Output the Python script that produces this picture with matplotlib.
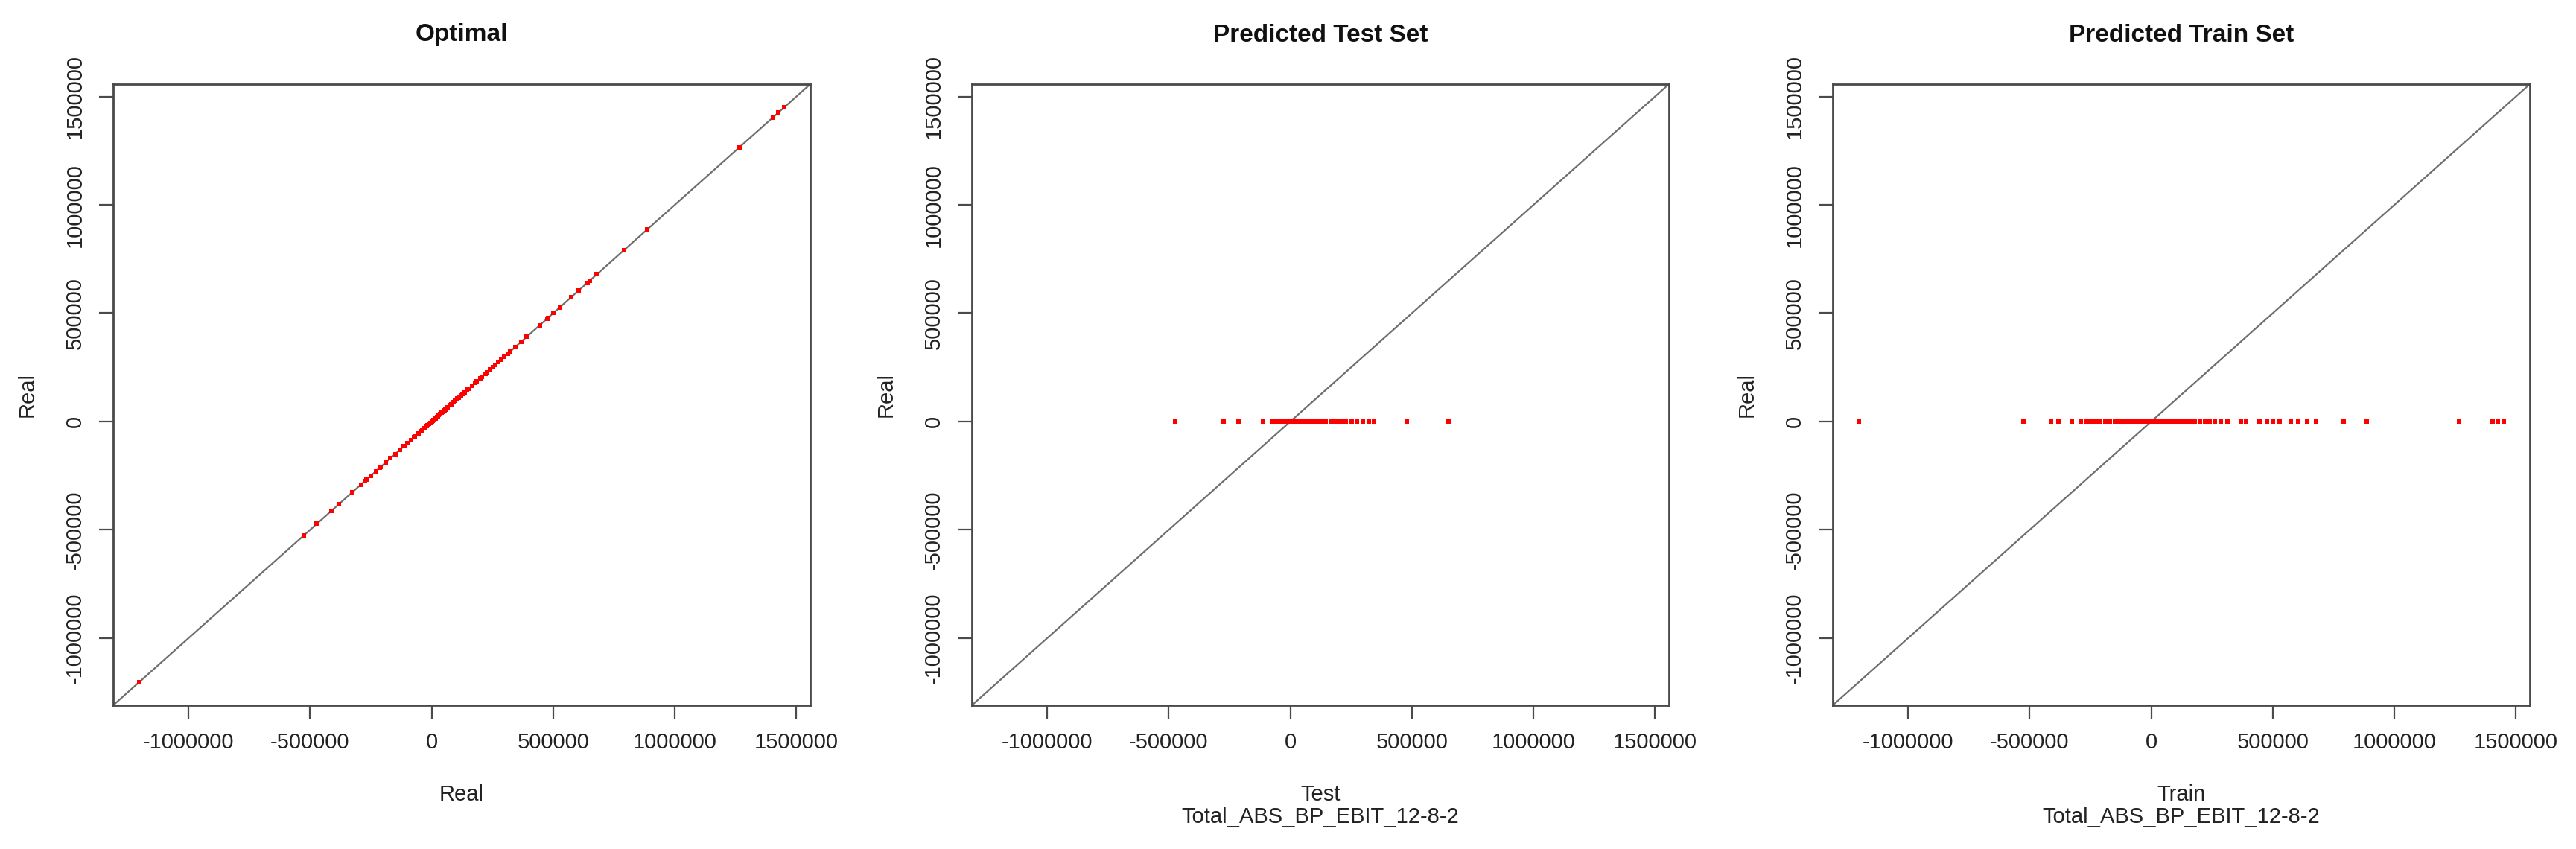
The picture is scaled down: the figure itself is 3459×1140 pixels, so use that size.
import matplotlib
matplotlib.use("Agg")
import matplotlib.pyplot as plt
from matplotlib.ticker import FixedLocator, FixedFormatter

# ---------------- data ----------------
train_real = [-1204000, -527000, -414000, -383000, -328000, -291000, -270000,
              -250000, -230000, -210000, -190000, -170000, -150000, -130000,
              -115000, -100000, -85000, -70000, -55000, -40000, -30000, -20000,
              -10000, 0, 8000, 15000, 25000, 35000, 45000, 55000, 65000, 75000,
              90000, 105000, 120000, 135000, 150000, 165000, 180000, 200000,
              220000, 240000, 260000, 285000, 313000, 368000, 390000, 444000,
              475000, 500000, 527000, 573000, 605000, 640000, 679000, 792000,
              887000, 1265000, 1403000, 1427000, 1451000]
train_pred = [0, 0, 0, 0, 0, 0, 0, 0, 0, 0, 0, 0, 0, 0, 0, 0, 0, 0, 0, 0,
              0, 0, 0, 0, 0, 0, 0, 0, 0, 0, 0, 0, 0, 0, 0, 0, 0, 0, 0, 0,
              0, 0, 0, 0, 0, 0, 0, 0, 0, 0, 0, 0, 0, 0, 0, 0, 0, 0, 0, 0, 0]

test_real = [-473000, -275000, -214000, -113000, -72000, -58000, -44000, -30000,
             -17000, -6000, 4000, 12000, 21000, 30000, 40000, 52000, 65000,
             80000, 95000, 110000, 128000, 146000, 165000, 185000, 205000,
             228000, 252000, 275000, 298000, 322000, 345000, 479000, 650000]
test_pred = [0, 0, 0, 0, 0, 0, 0, 0, 0, 0, 0, 0, 0, 0, 0, 0, 0, 0, 0, 0,
             0, 0, 0, 0, 0, 0, 0, 0, 0, 0, 0, 0, 0]

tick_values = [-1000000, -500000, 0, 500000, 1000000, 1500000]
tick_labels = ["-1000000", "-500000", "0", "500000", "1000000", "1500000"]

titles = ["Optimal", "Predicted Test Set", "Predicted Train Set"]
xlabels = ["Real", "Test\nTotal_ABS_BP_EBIT_12-8-2", "Train\nTotal_ABS_BP_EBIT_12-8-2"]
ylabel_text = "Real"

# ---------------- figure ----------------
plt.rcParams["font.family"] = ["Liberation Sans", "DejaVu Sans"]
plt.rcParams["axes.unicode_minus"] = False

fig = plt.figure(figsize=(34.59, 11.40), dpi=100)

W, H = 3459.0, 1140.0
lefts = [152, 1305, 2461]
ax_w = 936
top_px, bot_px = 113, 947

all_real = train_real + test_real
lo, hi = min(all_real), max(all_real)
pad = 0.04 * (hi - lo)
lim = (lo - pad, hi + pad)

panels = [
    (all_real, all_real),
    (test_real, test_pred),
    (train_real, train_pred),
]

box_col = "#4a4a4a"
txt_col = "#222222"
fs = 21

for i, (xs, ys) in enumerate(panels):
    ax = fig.add_axes([lefts[i] / W, 1 - bot_px / H, ax_w / W, (bot_px - top_px) / H])
    ax.set_xlim(lim)
    ax.set_ylim(lim)
    ax.axline((0, 0), slope=1, color="#6e6e6e", lw=1.6, zorder=2)
    ax.plot(xs, ys, linestyle="none", marker="s", markersize=4.2,
            markeredgewidth=0, color="#ff0000", zorder=3)

    for sp in ax.spines.values():
        sp.set_linewidth(2.0)
        sp.set_color(box_col)

    ax.xaxis.set_major_locator(FixedLocator(tick_values))
    ax.xaxis.set_major_formatter(FixedFormatter(tick_labels))
    ax.yaxis.set_major_locator(FixedLocator(tick_values))
    ax.yaxis.set_major_formatter(FixedFormatter(tick_labels))
    ax.tick_params(direction="out", length=14, width=1.6, color=box_col,
                   labelsize=fs, labelcolor=txt_col)
    ax.tick_params(axis="x", pad=12)
    ax.tick_params(axis="y", pad=13)
    for lab in ax.get_yticklabels():
        lab.set_rotation(90)
        lab.set_va("center")
        lab.set_ha("right")

    ax.set_title(titles[i], fontsize=24, fontweight="bold", color="#111111",
                 y=1.0 + 66 / (bot_px - top_px), va="center", pad=0)

    ax.set_xlabel(xlabels[i], fontsize=fs, color=txt_col, linespacing=1.1, va="top")
    ax.xaxis.set_label_coords(0.5, -(1053 - bot_px) / (bot_px - top_px))
    ax.set_ylabel(ylabel_text, fontsize=fs, color=txt_col, va="center")
    ax.yaxis.set_label_coords(-115 / ax_w, 0.5)

fig.savefig("out.png", dpi=100, facecolor="white")
